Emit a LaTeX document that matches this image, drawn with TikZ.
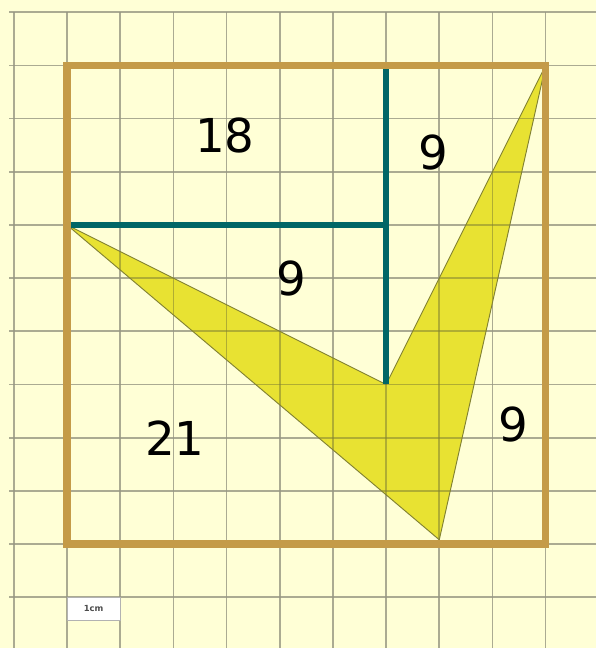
\documentclass[tikz,border=0pt]{standalone}
\usepackage{fontspec}
\setmainfont{DejaVu Sans}
\definecolor{bgcream}{RGB}{255,255,214}
\definecolor{gridgray}{RGB}{150,150,130}
\definecolor{gold}{RGB}{196,155,72}
\definecolor{tealline}{RGB}{0,102,102}
\definecolor{yfill}{RGB}{232,226,50}
\definecolor{yedge}{RGB}{130,130,50}
\tikzset{
  gridline/.style={draw=gridgray,line width=0.9pt,opacity=0.8},
  ingrid/.style={draw=yedge,line width=0.9pt,opacity=0.55},
  goldbox/.style={draw=gold,line width=4.1pt},
  tealseg/.style={draw=tealline,line width=2.9pt},
  yshape/.style={fill=yfill,draw=yedge,line width=0.5pt,line join=round},
  numlbl/.style={font=\fontsize{25}{28}\selectfont,text=black,inner sep=0pt},
  scalebox/.style={fill=white,draw=gray!60,line width=0.4pt,font=\fontsize{4.5}{5}\selectfont\bfseries,text=black!70,minimum width=1cm,minimum height=0.42cm,inner sep=0pt}
}
\begin{document}
\begin{tikzpicture}[x=1cm,y=1cm]
\useasboundingbox (-1.26,-1.955) rectangle (9.94,10.23);
\fill[bgcream] (-1.26,-1.955) rectangle (9.94,10.23);
% grid
\foreach \i in {-1,...,9} \draw[gridline] (\i,-1.955) -- (\i,10);
\foreach \j in {-1,...,10} \draw[gridline] (-1.09,\j) -- (9.94,\j);
% coordinates
\coordinate (L) at (0,6);
\coordinate (M) at (6,3);
\coordinate (T) at (9,9);
\coordinate (B) at (7,0.08);
\coordinate (TM) at (6,9);
\coordinate (LM) at (6,6);
% yellow shape
\path[yshape] (L) -- (M) -- (T) -- (B) -- cycle;
\begin{scope}
\clip (L) -- (M) -- (T) -- (B) -- cycle;
\foreach \i in {0,...,9} \draw[ingrid] (\i,0) -- (\i,9);
\foreach \j in {0,...,9} \draw[ingrid] (0,\j) -- (9,\j);
\end{scope}
% teal segments
\draw[tealseg] (TM) -- (M);
\draw[tealseg] (L) -- (LM);
% square
\draw[goldbox] (0,0) rectangle (9,9);
% labels
\node[numlbl] (n18) at (2.97,7.69) {18};
\node[numlbl] (n9a) at (6.88,7.37) {9};
\node[numlbl] (n9b) at (4.21,5.0) {9};
\node[numlbl] (n21) at (2.03,1.99) {21};
\node[numlbl] (n9c) at (8.40,2.24) {9};
\node[scalebox] (sc) at (0.5,-1.22) {1cm};
\end{tikzpicture}
\end{document}
